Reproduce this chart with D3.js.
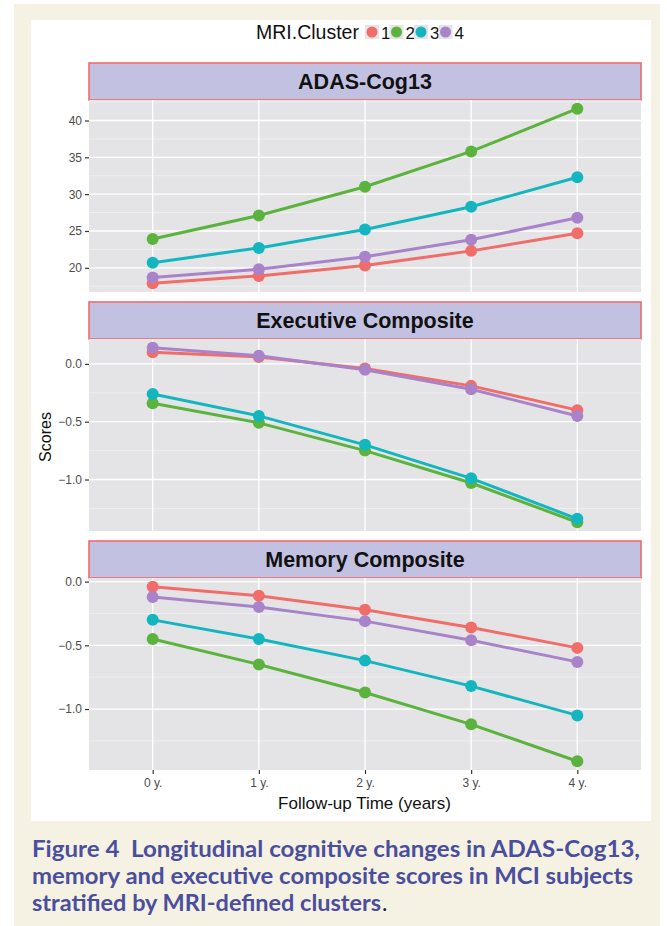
<!DOCTYPE html>
<html>
<head>
<meta charset="utf-8">
<script src="https://cdn.jsdelivr.net/npm/d3@7"></script>
<style>
  body { margin: 0; background: #ffffff; }
  svg { display: block; }
</style>
</head>
<body>
<svg id="chart"></svg>
<script>
// data
const times = ["0 y.", "1 y.", "2 y.", "3 y.", "4 y."];
const clusters = ["1", "2", "3", "4"];
const colors = ["#f06d69", "#5bb33d", "#13b6bf", "#a983c9"];

const adasCog = [
  [17.9, 18.9, 20.3, 22.3, 24.7],
  [23.9, 27.1, 31.0, 35.8, 41.6],
  [20.7, 22.7, 25.2, 28.3, 32.3],
  [18.7, 19.8, 21.5, 23.8, 26.8],
];
const executive = [
  [0.10, 0.06, -0.04, -0.19, -0.40],
  [-0.34, -0.51, -0.75, -1.03, -1.37],
  [-0.26, -0.45, -0.70, -0.99, -1.34],
  [0.14, 0.07, -0.05, -0.22, -0.45],
];
const memory = [
  [-0.04, -0.11, -0.22, -0.36, -0.52],
  [-0.45, -0.65, -0.87, -1.12, -1.41],
  [-0.30, -0.45, -0.62, -0.82, -1.05],
  [-0.12, -0.20, -0.31, -0.46, -0.63],
];
const adasTicks = [20, 25, 30, 35, 40];
const compTicks = [-1.0, -0.5, 0.0];

const panels = [
  { title: "ADAS-Cog13", values: adasCog, ticks: adasTicks, fmt: d3.format("d") },
  { title: "Executive Composite", values: executive, ticks: compTicks, fmt: d3.format(".1f") },
  { title: "Memory Composite", values: memory, ticks: compTicks, fmt: d3.format(".1f") },
];

const caption = [
  "Figure 4\u00a0\u00a0Longitudinal cognitive changes in ADAS-Cog13,",
  "memory and executive composite scores in MCI subjects",
  "stratified by MRI-defined clusters",
];
const captionWidths = [608, 601, 349];

// layout
const width = 667, height = 926;
const left = 89, right = 641;
const top0 = 63, stripH = 37, plotH = 192, gap = 10;
const font = "Liberation Sans, Arial, sans-serif";

const svg = d3.select("#chart").attr("width", width).attr("height", height);

svg.append("rect").attr("x", 14).attr("y", 4).attr("width", 646).attr("height", 922)
  .attr("fill", "#f5f2e4");
svg.append("rect").attr("x", 31).attr("y", 20).attr("width", 620).attr("height", 801)
  .attr("fill", "#ffffff");

const x = d3.scalePoint().domain(times).range([left, right]).padding(0.6);

panels.forEach((p, i) => {
  const sy = top0 + i * (stripH + plotH + gap);
  const py = sy + stripH;

  const all = p.values.flat();
  const [lo, hi] = d3.extent(all);
  const pad = (hi - lo) * 0.05;
  const y = d3.scaleLinear().domain([lo - pad, hi + pad]).range([py + plotH, py]);

  const g = svg.append("g");

  // strip
  g.append("rect").attr("x", left).attr("y", sy).attr("width", right - left).attr("height", stripH)
    .attr("fill", "#c3c1e1").attr("stroke", "#ef6b6b").attr("stroke-width", 1.6);
  g.append("text").attr("x", (left + right) / 2).attr("y", sy + stripH / 2 + 7.5)
    .attr("text-anchor", "middle").attr("font-family", font).attr("font-weight", "bold")
    .attr("font-size", 21.5).attr("fill", "#111").text(p.title);

  // panel
  g.append("rect").attr("x", left).attr("y", py).attr("width", right - left).attr("height", plotH)
    .attr("fill", "#e4e4e6");

  const step = p.ticks[1] - p.ticks[0];
  const minor = d3.range(p.ticks[0] - step / 2, hi + pad, step)
    .filter(v => v >= lo - pad && v <= hi + pad);
  g.selectAll(".minor").data(minor).join("line")
    .attr("x1", left).attr("x2", right)
    .attr("y1", d => y(d)).attr("y2", d => y(d))
    .attr("stroke", "#f4f4f5").attr("stroke-width", 0.7);
  g.selectAll(".major").data(p.ticks).join("line")
    .attr("x1", left).attr("x2", right)
    .attr("y1", d => y(d)).attr("y2", d => y(d))
    .attr("stroke", "#ffffff").attr("stroke-width", 1.3);
  g.selectAll(".vgrid").data(times).join("line")
    .attr("x1", d => x(d)).attr("x2", d => x(d))
    .attr("y1", py).attr("y2", py + plotH)
    .attr("stroke", "#ffffff").attr("stroke-width", 1.3);

  // y axis
  const yAxis = g.append("g").attr("transform", `translate(${left},0)`)
    .call(d3.axisLeft(y).tickValues(p.ticks).tickFormat(p.fmt).tickSize(4).tickPadding(3));
  yAxis.attr("font-family", font);
  yAxis.select(".domain").remove();
  yAxis.selectAll(".tick line").attr("stroke", "#333").attr("stroke-width", 1.2);
  yAxis.selectAll(".tick text").attr("fill", "#4d4d4d").attr("font-size", 12);

  // series
  const line = d3.line().x((d, j) => x(times[j])).y(d => y(d));
  g.selectAll(".series").data(p.values).join("path")
    .attr("d", line).attr("fill", "none")
    .attr("stroke", (d, k) => colors[k]).attr("stroke-width", 3);
  p.values.forEach((vals, k) => {
    g.selectAll(null).data(vals).join("circle")
      .attr("cx", (d, j) => x(times[j])).attr("cy", d => y(d)).attr("r", 6)
      .attr("fill", colors[k]);
  });

  if (i === panels.length - 1) {
    const xAxis = g.append("g").attr("transform", `translate(0,${py + plotH})`)
      .call(d3.axisBottom(x).tickSize(4).tickPadding(4));
    xAxis.attr("font-family", font);
    xAxis.select(".domain").remove();
    xAxis.selectAll(".tick line").attr("stroke", "#333").attr("stroke-width", 1.2);
    xAxis.selectAll(".tick text").attr("fill", "#4d4d4d").attr("font-size", 12);
  }
});

// axis titles
svg.append("text").attr("transform", "translate(51,437) rotate(-90)")
  .attr("text-anchor", "middle").attr("font-family", font).attr("font-size", 16)
  .attr("fill", "#111").text("Scores");
svg.append("text").attr("x", (left + right) / 2 - 0.5).attr("y", 809)
  .attr("text-anchor", "middle").attr("font-family", font).attr("font-size", 17)
  .attr("fill", "#111").text("Follow-up Time (years)");

// legend
const lg = svg.append("g");
lg.append("text").attr("x", 256).attr("y", 39).attr("font-family", font)
  .attr("font-size", 19.5).attr("fill", "#111").text("MRI.Cluster");
const item = lg.selectAll(".item").data(clusters).join("g")
  .attr("transform", (d, k) => `translate(${365 + k * 24.5},25)`);
item.append("rect").attr("width", 14).attr("height", 14).attr("fill", "#e4e4e6");
item.append("circle").attr("cx", 7).attr("cy", 7).attr("r", 5.5)
  .attr("fill", (d, k) => colors[k]);
item.append("text").attr("x", 16).attr("y", 13.5).attr("font-family", font)
  .attr("font-size", 17).attr("fill", "#111").text(d => d);

// caption
const cap = svg.append("g").attr("font-family", "Lato, 'Open Sans', sans-serif")
  .attr("font-weight", "bold").attr("font-size", 23).attr("fill", "#4a4e9d");
cap.selectAll("text").data(caption).join("text")
  .attr("x", 32).attr("y", (d, k) => 857 + k * 27)
  .attr("textLength", (d, k) => captionWidths[k]).attr("lengthAdjust", "spacingAndGlyphs")
  .text(d => d);
cap.append("text").attr("x", 32 + captionWidths[2] + 1).attr("y", 857 + 2 * 27)
  .attr("font-weight", "normal").attr("fill", "#222").text(".");
</script>
</body>
</html>
